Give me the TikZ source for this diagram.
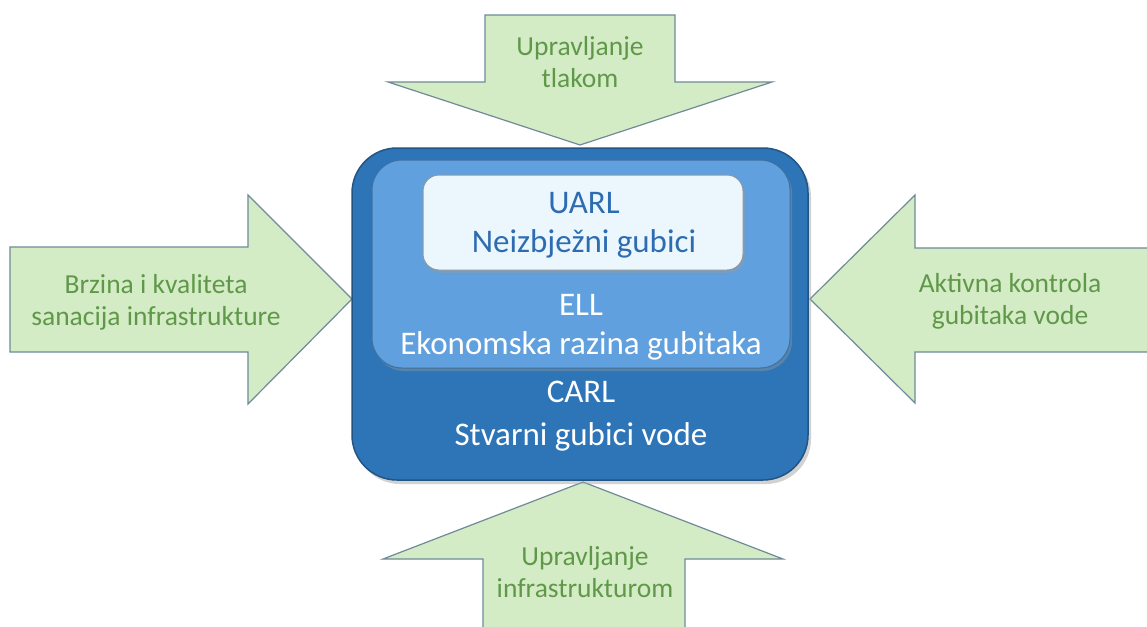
\documentclass[tikz,border=0pt]{standalone}
\usepackage{fontspec}
\setmainfont{Carlito}
\usetikzlibrary{shadows}
\definecolor{arrowfill}{RGB}{212,236,197}
\definecolor{arrowedge}{RGB}{112,138,152}
\definecolor{arrowtext}{RGB}{96,152,74}
\definecolor{outerblue}{RGB}{46,117,184}
\definecolor{outeredge}{RGB}{34,84,132}
\definecolor{midblue}{RGB}{96,160,222}
\definecolor{midedge}{RGB}{62,112,160}
\definecolor{innerfill}{RGB}{236,247,253}
\definecolor{inneredge}{RGB}{140,152,162}
\definecolor{uarltext}{RGB}{46,108,178}
\begin{document}
\begin{tikzpicture}[x=1pt,y=-1pt,
  bigarrow/.style={fill=arrowfill,draw=arrowedge,line width=1.2pt,line join=miter},
  arrowlabel/.style={align=center,text=arrowtext,font=\fontsize{27.5}{32}\selectfont,inner sep=0pt},
  boxlabel/.style={align=center,font=\fontsize{33}{39}\selectfont,inner sep=0pt}]
\useasboundingbox (0,0) rectangle (1147,626);
\clip (0,0) rectangle (1147,626);
\fill[white] (0,0) rectangle (1147,626);
% arrows
\draw[bigarrow] (485,15) -- (675,15) -- (675,82) -- (772,82) -- (580,145) -- (388,82) -- (485,82) -- cycle;
\draw[bigarrow] (10,247) -- (248,247) -- (248,195) -- (352,299) -- (248,404) -- (248,352) -- (10,352) -- cycle;
\draw[bigarrow] (1160,248) -- (915,248) -- (915,195) -- (810,299) -- (915,403) -- (915,352) -- (1160,352) -- cycle;
\draw[bigarrow] (583,482) -- (783,559) -- (685,559) -- (685,640) -- (483,640) -- (483,559) -- (383,559) -- cycle;
% boxes
\fill[black!35,opacity=0.5,rounded corners=45pt] (355,152) rectangle (811,484);
\draw[fill=outerblue,draw=outeredge,line width=1.5pt,rounded corners=45pt] (352,148) rectangle (808,480);
\fill[black!40,opacity=0.4,rounded corners=30pt] (374,163) rectangle (792,371);
\draw[fill=midblue,draw=midedge,line width=1pt,rounded corners=30pt] (372,160) rectangle (790,368);
\fill[black!40,opacity=0.4,rounded corners=16pt] (425,178) rectangle (745,273);
\draw[fill=innerfill,draw=inneredge,line width=1pt,rounded corners=16pt] (423,175) rectangle (743,270);
% labels
\node[arrowlabel] (ltop) at (580,62.5) {Upravljanje\\tlakom};
\node[arrowlabel] (lleft) at (156,302) {Brzina i kvaliteta\\sanacija infrastrukture};
\node[arrowlabel] (lright) at (1010,301.5) {Aktivna kontrola\\gubitaka vode};
\node[arrowlabel] (lbottom) at (585,572.5) {Upravljanje\\infrastrukturom};
\node[boxlabel,text=uarltext] (uarl) at (584,225) {UARL\\Neizbježni gubici};
\node[boxlabel,text=white] (ell) at (581,327) {ELL\\Ekonomska razina gubitaka};
\node[boxlabel,text=white] (carl) at (581,416.5) {CARL\\[4pt]Stvarni gubici vode};
\end{tikzpicture}
\end{document}
